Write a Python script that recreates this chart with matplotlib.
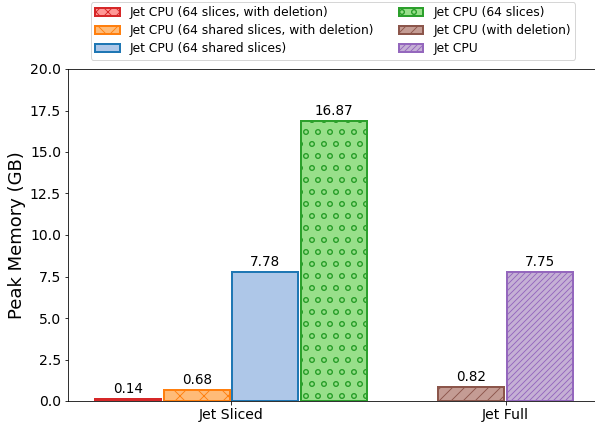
import matplotlib
matplotlib.use("Agg")
import matplotlib.pyplot as plt
import numpy as np

groups = ["Jet Sliced", "Jet Full"]

sliced_labels = [
    "Jet CPU (64 slices, with deletion)",
    "Jet CPU (64 shared slices, with deletion)",
    "Jet CPU (64 shared slices)",
    "Jet CPU (64 slices)",
]
sliced_values = [0.14, 0.68, 7.78, 16.87]

full_labels = ["Jet CPU (with deletion)", "Jet CPU"]
full_values = [0.82, 7.75]

sliced_edges = ["#d62728", "#ff7f0e", "#1f77b4", "#2ca02c"]
sliced_faces = ["#ff9896", "#ffbb78", "#aec7e8", "#98df8a"]
sliced_hatches = ["xx", "x", "", "o"]

full_edges = ["#8c564b", "#9467bd"]
full_faces = ["#c49c94", "#c5b0d5"]
full_hatches = ["//", "////"]

plt.rcParams["hatch.linewidth"] = 0.9

DPI = 72
fig = plt.figure(figsize=(595 / DPI, 430 / DPI), dpi=DPI)
ax = fig.add_axes([68 / 595, 29 / 430, 530 / 595, 332 / 430])

width = 0.24
step = 0.25
x = np.arange(len(groups))

handles = []
n = len(sliced_values)
for i, (v, lab, ec, fc, h) in enumerate(zip(sliced_values, sliced_labels,
                                            sliced_edges, sliced_faces, sliced_hatches)):
    pos = x[0] + (i - (n - 1) / 2) * step
    b = ax.bar(pos, v, width, color=fc, edgecolor=ec, hatch=h, linewidth=2, label=lab)
    ax.bar_label(b, labels=[f"{v:.2f}"], padding=3, fontsize=13.5)
    handles.append(b)

m = len(full_values)
for i, (v, lab, ec, fc, h) in enumerate(zip(full_values, full_labels,
                                            full_edges, full_faces, full_hatches)):
    pos = x[1] + (i - (m - 1) / 2) * step
    b = ax.bar(pos, v, width, color=fc, edgecolor=ec, hatch=h, linewidth=2, label=lab)
    ax.bar_label(b, labels=[f"{v:.2f}"], padding=3, fontsize=13.5)
    handles.append(b)

ax.set_xlim(-0.594, 1.337)
ax.set_ylim(0, 20)
ax.set_yticks(np.arange(0, 20.1, 2.5))
ax.set_xticks(x)
ax.set_xticklabels(groups, fontsize=14)
ax.tick_params(axis="y", labelsize=14)
ax.set_ylabel("Peak Memory (GB)", fontsize=18)

ax.legend(handles, [hd.get_label() for hd in handles],
          ncol=2, loc="lower center", bbox_to_anchor=(0.5, 1.01), fontsize=12.3,
          labelspacing=0.4, borderpad=0.35, frameon=True)

fig.savefig("out.png", dpi=DPI)
